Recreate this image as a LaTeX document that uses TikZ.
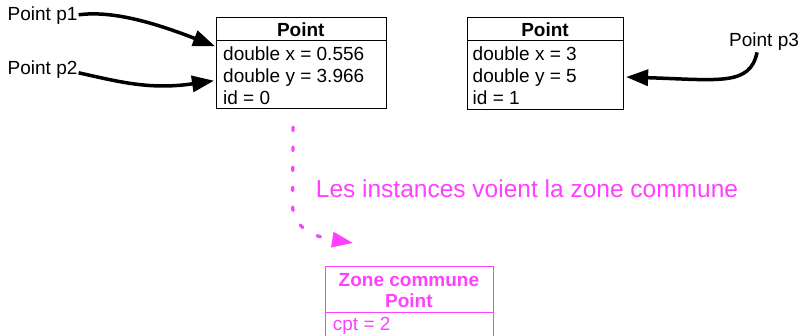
\documentclass[tikz,border=0pt]{standalone}
\usepackage{fontspec}
\setmainfont{Liberation Sans}
\usetikzlibrary{arrows.meta,calc}
\definecolor{zonepink}{RGB}{255,64,255}
\tikzset{
  body/.style={font=\fontsize{19}{22}\selectfont, anchor=base west, inner sep=0pt},
  head/.style={font=\fontsize{19}{22}\selectfont\bfseries, anchor=base, inner sep=0pt},
  classbox/.style={draw, line width=1.1pt, anchor=north west, inner sep=0pt},
  divider/.style={line width=1.1pt},
  ref/.style={line width=3.5pt, -{Triangle[length=22pt,width=16pt]}},
  shared/.style={zonepink, line width=3.3pt, line cap=round,
    dash pattern=on 3.5pt off 16.5pt, -{Triangle[length=21pt,width=15pt]}},
}
\begin{document}
\begin{tikzpicture}[x=1pt,y=-1pt]
\useasboundingbox (0,0) rectangle (800,335);
\clip (0,0) rectangle (800,335);

% first instance
\node[classbox, minimum width=169.7pt, minimum height=91.6pt] (b1) at (216,16.7) {};
\draw[divider] ($(b1.north west)+(0,24)$) -- ($(b1.north east)+(0,24)$);
\node[head] (b1h) at (300.8,36) {Point};
\node[body] (b1x) at (223,60) {double x = 0.556};
\node[body] (b1y) at (223,82) {double y = 3.966};
\node[body] (b1i) at (223,104) {id = 0};

% second instance
\node[classbox, minimum width=156pt, minimum height=92pt] (b2) at (467,16.5) {};
\draw[divider] ($(b2.north west)+(0,24)$) -- ($(b2.north east)+(0,24)$);
\node[head] (b2h) at (545,36) {Point};
\node[body] (b2x) at (472.5,60) {double x = 3};
\node[body] (b2y) at (472.5,82) {double y = 5};
\node[body] (b2i) at (472.5,104) {id = 1};

% references
\node[body] (p1) at (7.5,20.7) {Point p1};
\node[body] (p2) at (7.5,74.3) {Point p2};
\node[body] (p3) at (729,46.7) {Point p3};

\draw[ref] ($(p1.east)+(1,-1)$) .. controls (115,10) and (160,25) .. ($(b1.north west)+(-1,29.5)$);
\draw[ref] ($(p2.base east)+(1,-1.5)$) .. controls (120,82) and (150,90) .. ($(b1.north west)+(-2,64)$);
\draw[ref] ($(p3.south)+(-7,1.5)$) .. controls (750,86) and (720,80) .. ($(b2.north east)+(2,60.5)$);

% shared class area
\node[classbox, draw=zonepink, minimum width=167.7pt, minimum height=90pt] (z) at (325,266) {};
\draw[divider, zonepink] ($(z.north west)+(0,46.7)$) -- ($(z.north east)+(0,46.7)$);
\node[head, text=zonepink] (zh1) at (408.9,286) {Zone commune};
\node[head, text=zonepink] (zh2) at (408.9,307.7) {Point};
\node[body, text=zonepink] (zc) at (332.7,330.7) {cpt = 2};

\draw[shared] ($(b1.south)+(-8.3,17.7)$) -- (292.5,205) .. controls (293,226) and (310,236) .. ($(z.north west)+(28,-23)$);
\node[anchor=base west, inner sep=0pt, text=zonepink, font=\fontsize{24.5}{28}\selectfont] (note) at (315.7,197.3) {Les instances voient la zone commune};
\end{tikzpicture}
\end{document}
